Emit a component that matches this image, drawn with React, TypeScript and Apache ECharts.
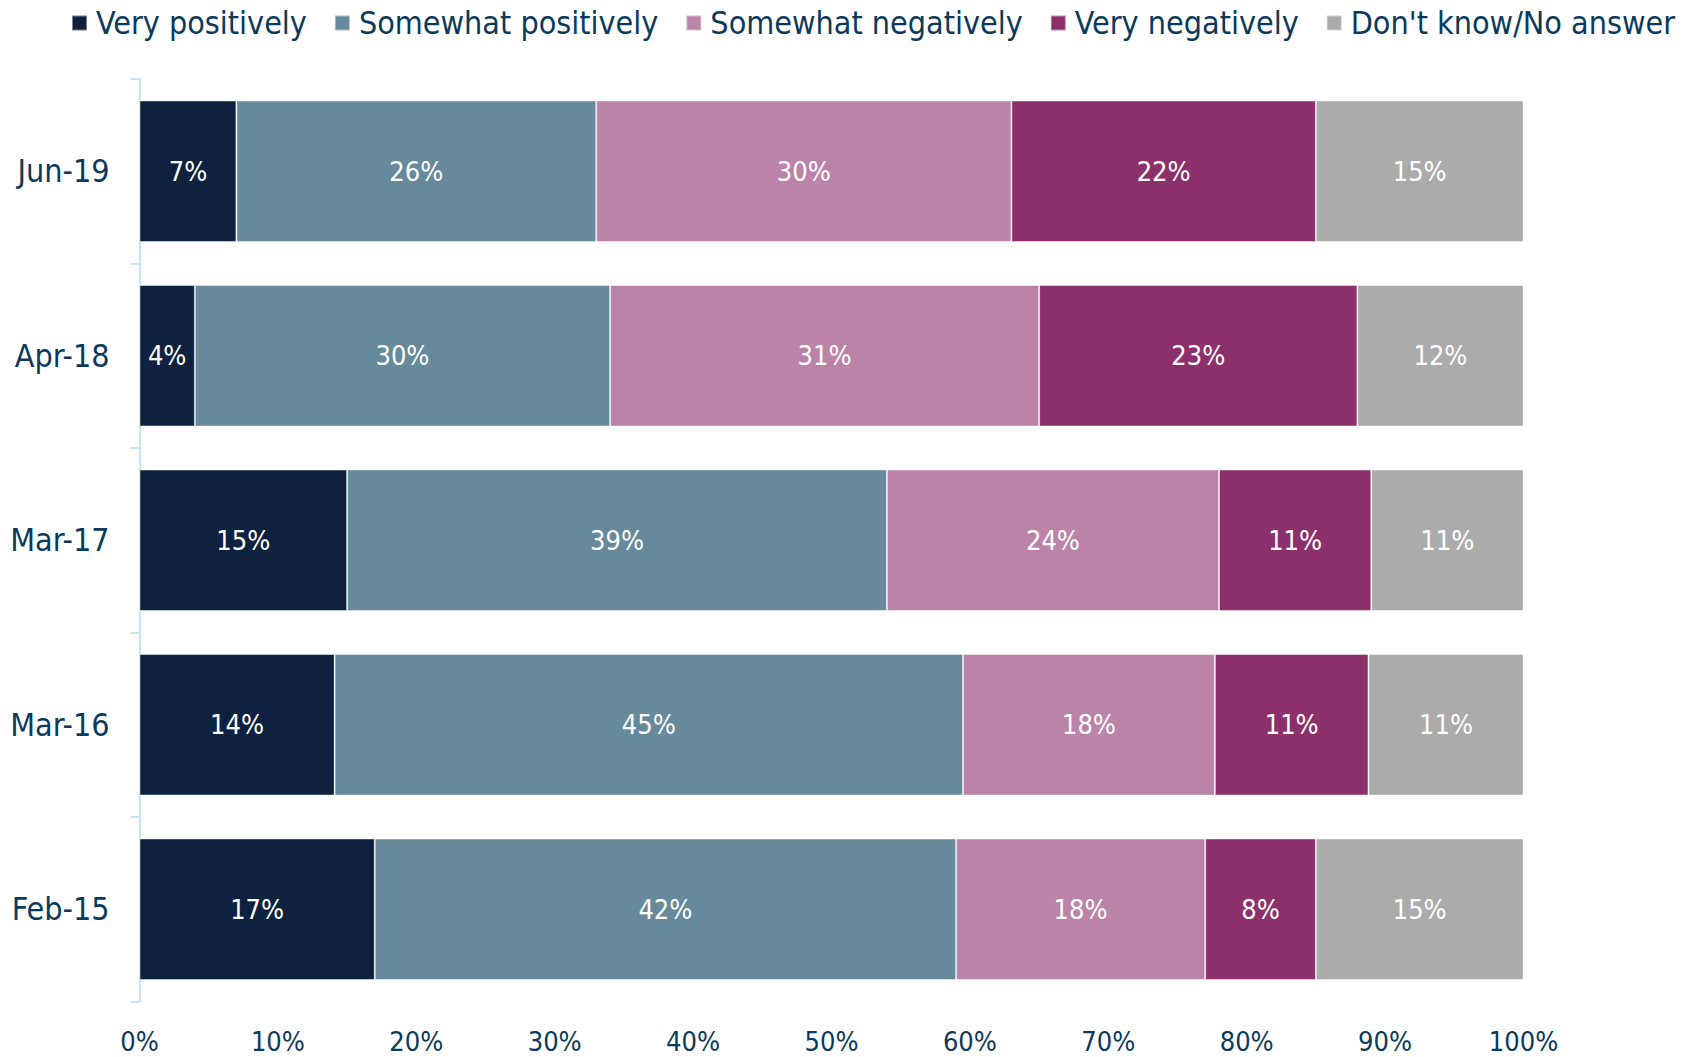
import React, { useEffect, useRef } from "react";
import * as echarts from "echarts";

const categories = ["Jun-19", "Apr-18", "Mar-17", "Mar-16", "Feb-15"];
const seriesNames = [
  "Very positively",
  "Somewhat positively",
  "Somewhat negatively",
  "Very negatively",
  "Don't know/No answer",
];
const veryPositively = [7, 4, 15, 14.1, 17];
const somewhatPositively = [26, 30, 39, 45.4, 42];
const somewhatNegatively = [30, 31, 24, 18.2, 18];
const veryNegatively = [22, 23, 11, 11.1, 8];
const dontKnow = [15, 12, 11, 11.2, 15];
const xTicks = [0, 10, 20, 30, 40, 50, 60, 70, 80, 90, 100];

const colors = ["#0e2240", "#67899c", "#bb83a8", "#8c306c", "#ababab"];
const textColor = "#0b3a5c";
const cond = "'DejaVu Sans Condensed', 'Liberation Sans', sans-serif";

export default function App() {
  const ref = useRef<HTMLDivElement>(null);
  useEffect(() => {
    if (!ref.current) return;
    const chart = echarts.init(ref.current, undefined, { renderer: "svg" });
    const data = [veryPositively, somewhatPositively, somewhatNegatively, veryNegatively, dontKnow];
    chart.setOption({
      animation: false,
      legend: {
        left: 71,
        top: 7,
        width: 1620,
        padding: 0,
        itemWidth: 15,
        itemHeight: 15,
        itemGap: 27,
        icon: "rect",
        textStyle: { color: textColor, fontFamily: cond, fontSize: 32, lineHeight: 30, padding: [0, 0, 0, 4] },
        data: seriesNames,
      },
      grid: { left: 139.5, right: 170.5, top: 79, bottom: 55.5, containLabel: false },
      xAxis: {
        type: "value",
        min: xTicks[0],
        max: xTicks[xTicks.length - 1],
        interval: 10,
        axisLine: { show: false },
        axisTick: { show: false },
        splitLine: { show: false },
        axisLabel: {
          formatter: "{value}%",
          color: textColor,
          fontFamily: cond,
          fontSize: 27,
          lineHeight: 27,
          margin: 26,
        },
      },
      yAxis: {
        type: "category",
        inverse: true,
        data: categories,
        axisLine: { show: true, lineStyle: { color: "#c5e6f8", width: 2 } },
        axisTick: { show: true, length: 9, lineStyle: { color: "#c5e6f8", width: 2 } },
        axisLabel: { color: textColor, fontFamily: cond, fontSize: 32, margin: 30 },
      },
      series: seriesNames.map((name, i) => ({
        name,
        type: "bar",
        stack: "total",
        barCategoryGap: "23.3%",
        data: data[i],
        itemStyle: { color: colors[i], borderColor: "rgba(255,255,255,0.45)", borderWidth: 1 },
        label: {
          show: true,
          position: "inside",
          color: "#ffffff",
          fontFamily: cond,
          fontSize: 27,
          formatter: (p: any) => Math.round(p.value) + "%",
        },
      })),
    });
    return () => chart.dispose();
  }, []);
  return (
    <div
      ref={ref}
      style={{ position: "fixed", left: 0, top: 0, width: 1694, height: 1057, background: "#ffffff" }}
    />
  );
}
